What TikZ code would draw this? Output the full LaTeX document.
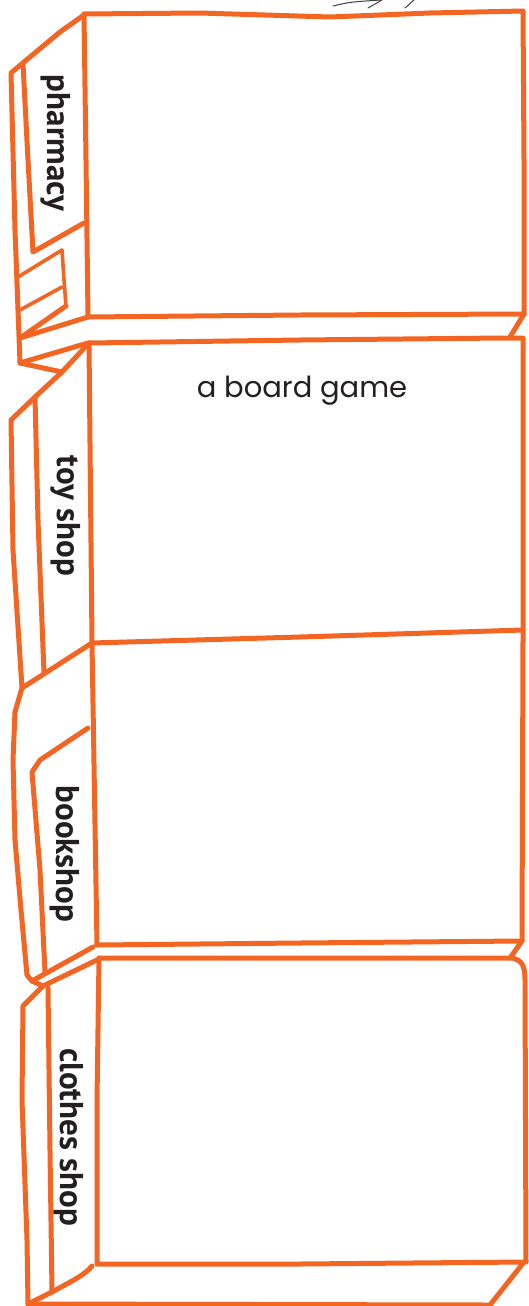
\documentclass[tikz,border=0pt]{standalone}
\usepackage{fontspec}
\newfontfamily\shopfont{PT Sans}
\newfontfamily\handfont{Poppins}
\definecolor{shoporange}{RGB}{242,101,34}
\definecolor{inkgrey}{RGB}{35,31,32}
\begin{document}
\begin{tikzpicture}[x=1pt,y=-1pt,
  edge/.style={draw=shoporange,line width=5pt,line cap=round,line join=round},
  thinedge/.style={draw=shoporange,line width=3.6pt,line cap=round,line join=round},
  shoplabel/.style={font=\shopfont\bfseries\fontsize{33}{36}\selectfont,rotate=-90,text=inkgrey,inner sep=0pt},
  itemlabel/.style={font=\handfont\fontsize{29}{32}\selectfont,text=inkgrey,inner sep=0pt},
  sketch/.style={draw=black!75,line width=1pt,line cap=round}]
\useasboundingbox (0,0) rectangle (529,1306);
\fill[white] (0,0) rectangle (529,1306);

% grey marks at the top
\draw[sketch] (333,6) .. controls (350,2) .. (381,0);
\draw[sketch] (368,8) -- (382,0);
\draw[sketch] (405,8) -- (414,0);

% ---------- pharmacy ----------
\draw[edge] (84,14) -- (200,13) -- (330,17) -- (430,13) -- (523,11) -- (524,160) -- (524,314) -- (300,315) -- (88,317) -- (86,160) -- cycle;
\draw[edge] (84,15) -- (60,32) -- (24,62) -- (11,73) -- (15,230) -- (20,363) -- (88,343);
\draw[edge] (23,64) -- (28,160) -- (33,252) -- (84,223);
\draw[thinedge] (18,277) -- (62,250);
\draw[thinedge] (62,250) -- (64,280) -- (66,306);
\draw[thinedge] (20,310) -- (62,287);
\draw[edge] (20,338) -- (66,306);
\draw[edge] (20,338) -- (88,317);
\draw[edge] (20,363) -- (62,372);
\draw[edge] (524,314) -- (510,337);
\node[shoplabel] (pharmacy) at (56,143) {pharmacy};

% ---------- toy shop ----------
\draw[edge] (89,343) -- (300,340) -- (505,338) -- (523,338) -- (523,640) -- (522,941);
\draw[edge] (89,343) -- (92,643) -- (97,945);
\draw[edge] (89,343) -- (62,372) -- (35,397) -- (11,420) -- (13,550) -- (22,688) -- (92,643) -- (300,637) -- (523,630);
\draw[edge] (35,397) -- (38,520) -- (44,673);
\node[shoplabel] (toy) at (66,516) {toy shop};
\node[itemlabel,anchor=base] (game) at (302,397) {a board game};

% ---------- bookshop ----------
\draw[edge] (22,688) -- (15,712) -- (13,760) -- (15,840) -- (21,910) -- (27,975) -- (32,981) -- (93,947);
\draw[edge] (45,972) -- (40,870) -- (32,772) -- (40,760) -- (88,728);
\draw[edge] (32,981) -- (43,986) -- (99,959);
\draw[edge] (97,945) -- (300,943) -- (520,941);
\draw[edge] (522,941) -- (510,958);
\node[shoplabel] (book) at (65,854) {bookshop};

% ---------- clothes shop ----------
\draw[edge] (99,958) -- (300,958) -- (512,958) .. controls (522,960) and (525,966) .. (525,980) -- (526,1262);
\draw[edge] (99,958) -- (97,1100) -- (97,1263);
\draw[edge] (43,986) -- (23,1006) -- (22,1100) -- (27,1240) -- (28,1304);
\draw[edge] (48,988) -- (50,1150) -- (52,1292);
\draw[edge] (97,1264) -- (300,1264) -- (524,1262) -- (490,1305) -- (28,1304);
\draw[edge] (28,1304) -- (52,1292) .. controls (70,1282) and (85,1275) .. (92,1266);
\node[shoplabel] (clothes) at (69,1137) {clothes shop};
\end{tikzpicture}
\end{document}
